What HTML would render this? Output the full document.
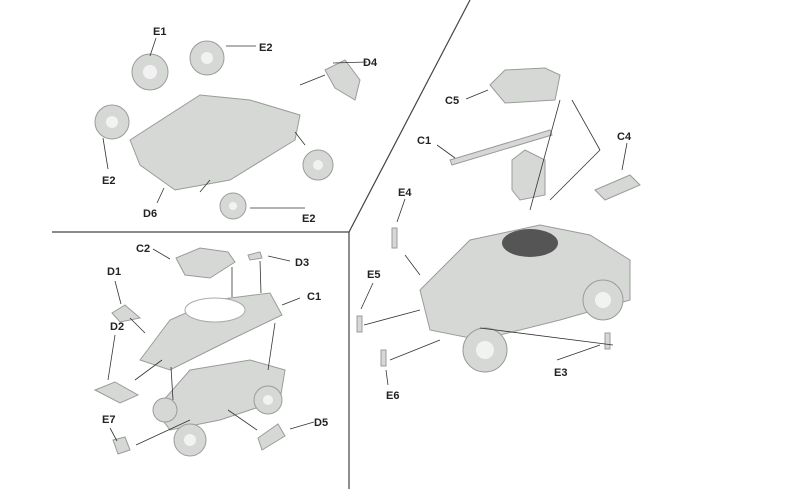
<!DOCTYPE html>
<html><head><meta charset="utf-8"><style>
html,body{margin:0;padding:0;background:#fff;width:800px;height:489px;overflow:hidden}
svg text{font-family:"Liberation Sans",sans-serif;font-weight:bold;font-size:11px;fill:#222}
</style></head><body>
<svg width="800" height="489" viewBox="0 0 800 489" xmlns="http://www.w3.org/2000/svg">
<g stroke="#444" stroke-width="1.2" fill="none">
<polyline points="470,0 349,232 52,232"/>
<line x1="349" y1="232" x2="349" y2="489"/>
</g>
<g fill="#d6d8d6" stroke="#9a9c9a" stroke-width="1">
<polygon points="130,140 200,95 250,100 300,115 295,140 230,180 175,190 140,165"/>
<circle cx="150" cy="72" r="18"/><circle cx="207" cy="58" r="17"/>
<circle cx="112" cy="122" r="17"/><circle cx="318" cy="165" r="15"/>
<circle cx="233" cy="206" r="13"/>
<polygon points="325,70 345,60 360,80 355,100 335,88"/>
<polygon points="176,258 200,248 228,252 235,262 210,278 185,275"/>
<polygon points="140,360 170,320 215,300 270,293 282,315 230,340 170,370"/>
<polygon points="155,410 190,370 250,360 285,370 280,400 220,420 170,430"/>
<circle cx="190" cy="440" r="16"/><circle cx="268" cy="400" r="14"/>
<circle cx="165" cy="410" r="12"/>
<polygon points="112,313 125,305 140,318 120,322"/>
<polygon points="95,390 115,382 138,395 120,403"/>
<polygon points="113,440 125,437 130,450 118,454"/>
<polygon points="258,438 278,424 285,436 262,450"/>
<polygon points="248,255 260,252 262,258 250,260"/>
<polygon points="490,85 505,70 545,68 560,75 555,100 505,103"/>
<polygon points="450,160 550,130 552,135 452,165"/>
<polygon points="512,160 525,150 545,160 545,195 520,200 512,190"/>
<polygon points="420,290 470,240 540,225 590,235 630,260 630,300 560,320 480,340 430,330"/>
<circle cx="485" cy="350" r="22"/><circle cx="603" cy="300" r="20"/>
<polygon points="595,190 630,175 640,185 605,200"/>
<rect x="392" y="228" width="5" height="20"/>
<rect x="357" y="316" width="5" height="16"/>
<rect x="381" y="350" width="5" height="16"/>
<rect x="605" y="333" width="5" height="16"/>
</g>
<g fill="#f2f2f2" stroke="none">
<circle cx="150" cy="72" r="7"/><circle cx="207" cy="58" r="6"/><circle cx="112" cy="122" r="6"/>
<circle cx="318" cy="165" r="5"/><circle cx="233" cy="206" r="4"/>
<circle cx="485" cy="350" r="9"/><circle cx="603" cy="300" r="8"/>
<circle cx="190" cy="440" r="6"/><circle cx="268" cy="400" r="5"/>
</g>
<ellipse cx="530" cy="243" rx="28" ry="14" fill="#555"/>
<ellipse cx="215" cy="310" rx="30" ry="12" fill="#fff" stroke="#aaa"/>
<g stroke="#333" stroke-width="0.8">
<line x1="156" y1="38" x2="150" y2="56"/><line x1="226" y1="46" x2="256" y2="46"/>
<line x1="333" y1="63" x2="367" y2="62"/><line x1="466" y1="99" x2="488" y2="90"/>
<line x1="437" y1="145" x2="455" y2="158"/><line x1="627" y1="143" x2="622" y2="170"/>
<line x1="405" y1="199" x2="397" y2="222"/><line x1="108" y1="169" x2="103" y2="138"/>
<line x1="157" y1="203" x2="164" y2="188"/><line x1="250" y1="208" x2="305" y2="208"/>
<line x1="153" y1="249" x2="170" y2="259"/><line x1="268" y1="256" x2="290" y2="261"/>
<line x1="115" y1="281" x2="121" y2="304"/><line x1="282" y1="305" x2="300" y2="298"/>
<line x1="373" y1="283" x2="361" y2="309"/><line x1="115" y1="335" x2="108" y2="380"/>
<line x1="557" y1="360" x2="600" y2="345"/><line x1="388" y1="385" x2="386" y2="370"/>
<line x1="110" y1="428" x2="117" y2="441"/><line x1="290" y1="429" x2="314" y2="422"/>
<line x1="136" y1="445" x2="190" y2="420"/><line x1="257" y1="430" x2="228" y2="410"/>
<line x1="232" y1="267" x2="232" y2="297"/><line x1="260" y1="261" x2="261" y2="293"/>
<line x1="275" y1="323" x2="268" y2="370"/><line x1="135" y1="380" x2="162" y2="360"/>
<line x1="130" y1="318" x2="145" y2="333"/><line x1="171" y1="367" x2="173" y2="400"/>
<line x1="560" y1="100" x2="530" y2="210"/><line x1="572" y1="100" x2="600" y2="150"/>
<line x1="600" y1="150" x2="550" y2="200"/><line x1="405" y1="255" x2="420" y2="275"/>
<line x1="364" y1="325" x2="420" y2="310"/><line x1="390" y1="360" x2="440" y2="340"/>
<line x1="613" y1="345" x2="480" y2="328"/><line x1="300" y1="85" x2="325" y2="75"/>
<line x1="305" y1="145" x2="295" y2="132"/><line x1="210" y1="180" x2="200" y2="192"/>
</g>
<text x="153" y="35">E1</text><text x="259" y="51">E2</text><text x="363" y="66">D4</text>
<text x="445" y="104">C5</text><text x="417" y="144">C1</text><text x="617" y="140">C4</text>
<text x="398" y="196">E4</text><text x="102" y="184">E2</text><text x="143" y="217">D6</text>
<text x="302" y="222">E2</text><text x="136" y="252">C2</text><text x="295" y="266">D3</text>
<text x="107" y="275">D1</text><text x="307" y="300">C1</text><text x="367" y="278">E5</text>
<text x="110" y="330">D2</text><text x="554" y="376">E3</text><text x="386" y="399">E6</text>
<text x="102" y="423">E7</text><text x="314" y="426">D5</text>
</svg>
</body></html>
